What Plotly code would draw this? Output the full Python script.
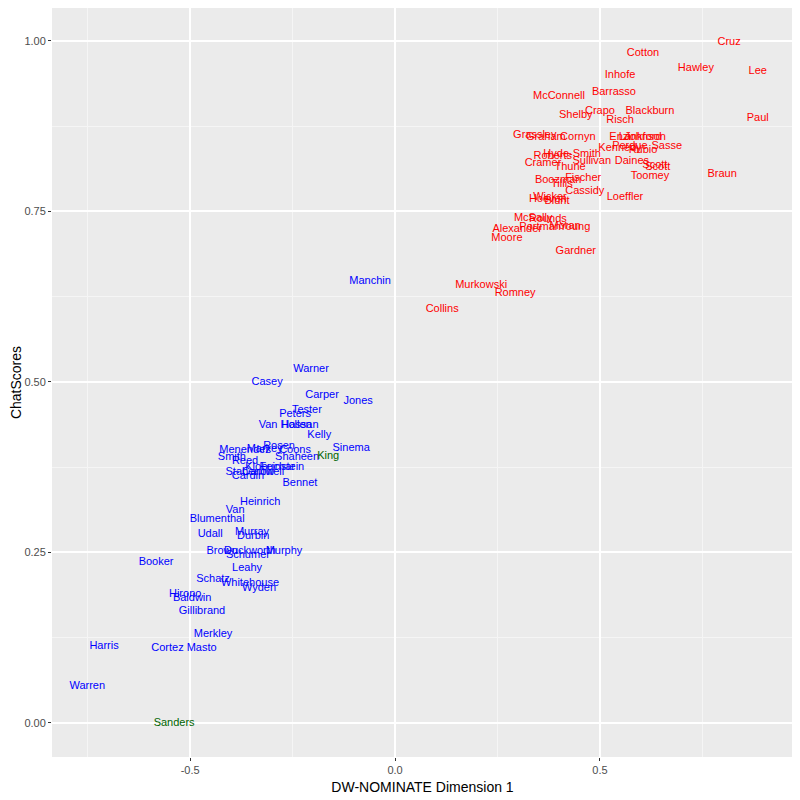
import plotly.graph_objects as go

# Republican senators: name, DW-NOMINATE dim 1, chat score
rep_names = ["Cruz", "Cotton", "Hawley", "Lee", "Inhofe", "McConnell", "Barrasso",
             "Shelby", "Crapo", "Blackburn", "Risch", "Paul", "Grassley", "Graham",
             "Cornyn", "Enzi", "Lankford", "Johnson", "Perdue", "Kennedy", "Rubio",
             "Sasse", "Hyde-Smith", "Roberts", "Cramer", "Sullivan", "Thune", "Daines",
             "Scott", "Scott", "Toomey", "Braun", "Boozman", "Fischer", "Tillis",
             "Cassidy", "Loeffler", "Wicker", "Hoeven", "Blunt", "McSally", "Rounds",
             "Portman", "Moran", "Young", "Alexander", "Moore", "Gardner", "Murkowski",
             "Romney", "Collins"]
rep_x = [0.815, 0.605, 0.734, 0.885, 0.549, 0.400, 0.534,
         0.441, 0.500, 0.622, 0.549, 0.885, 0.341, 0.368,
         0.446, 0.549, 0.598, 0.610, 0.573, 0.549, 0.605,
         0.663, 0.432, 0.385, 0.361, 0.480, 0.427, 0.578,
         0.641, 0.634, 0.622, 0.798, 0.398, 0.459, 0.407,
         0.463, 0.561, 0.378, 0.373, 0.395, 0.337, 0.373,
         0.354, 0.415, 0.439, 0.298, 0.273, 0.441, 0.210,
         0.293, 0.115]
rep_y = [0.998, 0.982, 0.960, 0.956, 0.949, 0.919, 0.924,
         0.891, 0.896, 0.897, 0.883, 0.887, 0.861, 0.858,
         0.859, 0.859, 0.859, 0.859, 0.846, 0.843, 0.839,
         0.846, 0.834, 0.831, 0.821, 0.823, 0.814, 0.823,
         0.814, 0.817, 0.801, 0.804, 0.796, 0.798, 0.789,
         0.780, 0.770, 0.771, 0.767, 0.765, 0.740, 0.739,
         0.726, 0.728, 0.727, 0.723, 0.710, 0.692, 0.642,
         0.630, 0.606]

# Democratic senators
dem_names = ["Manchin", "Warner", "Casey", "Carper", "Jones", "Tester", "Peters",
             "Van Hollen", "Hassan", "Kelly", "Sinema", "Rosen", "Coons", "Menendez",
             "Markey", "Shaheen", "Smith", "Reed", "Klobuchar", "Feinstein", "Stabenow",
             "Cantwell", "Cardin", "Bennet", "Heinrich", "Van", "Blumenthal", "Udall",
             "Murray", "Durbin", "Brown", "Duckworth", "Schumer", "Murphy", "Booker",
             "Leahy", "Schatz", "Whitehouse", "Wyden", "Hirono", "Baldwin", "Gillibrand",
             "Merkley", "Cortez Masto", "Harris", "Warren"]
dem_x = [-0.061, -0.205, -0.312, -0.178, -0.090, -0.215, -0.244,
         -0.268, -0.232, -0.185, -0.107, -0.283, -0.244, -0.366,
         -0.318, -0.239, -0.398, -0.366, -0.305, -0.276, -0.354,
         -0.322, -0.359, -0.232, -0.329, -0.390, -0.434, -0.451,
         -0.349, -0.346, -0.422, -0.354, -0.359, -0.271, -0.583,
         -0.361, -0.444, -0.354, -0.332, -0.512, -0.495, -0.471,
         -0.444, -0.515, -0.710, -0.751]
dem_y = [0.648, 0.518, 0.499, 0.481, 0.472, 0.459, 0.453,
         0.437, 0.437, 0.421, 0.402, 0.406, 0.399, 0.399,
         0.401, 0.389, 0.389, 0.383, 0.375, 0.375, 0.367,
         0.367, 0.362, 0.352, 0.324, 0.312, 0.298, 0.277,
         0.279, 0.274, 0.251, 0.251, 0.246, 0.251, 0.236,
         0.227, 0.210, 0.205, 0.198, 0.189, 0.183, 0.163,
         0.130, 0.110, 0.113, 0.054]

# Independents
ind_names = ["King", "Sanders"]
ind_x = [-0.163, -0.539]
ind_y = [0.391, 0.000]

x_ticks = [-0.5, 0.0, 0.5]
x_ticktext = ["-0.5", "0.0", "0.5"]
y_ticks = [0.0, 0.25, 0.5, 0.75, 1.0]
y_ticktext = ["0.00", "0.25", "0.50", "0.75", "1.00"]

fig = go.Figure()

for names, xs, ys, col in [(rep_names, rep_x, rep_y, '#FF0000'),
                           (dem_names, dem_x, dem_y, '#0000FF'),
                           (ind_names, ind_x, ind_y, '#006400')]:
    fig.add_trace(go.Scatter(
        x=xs, y=ys, text=names,
        mode='text',
        textposition='middle center',
        textfont=dict(family='Liberation Sans, Arial', size=11, color=col),
        showlegend=False,
        hoverinfo='text'))

# page body adds 8px, so margins are trimmed to keep the panel in place
fig.update_layout(
    width=800, height=800,
    margin=dict(l=44, r=15, t=0, b=51),
    paper_bgcolor='#ffffff',
    plot_bgcolor='#EBEBEB',
    font=dict(family='Liberation Sans, Arial', color='#000000'),
    showlegend=False)

fig.update_xaxes(
    range=[-0.837, 0.971],
    tickvals=x_ticks, ticktext=x_ticktext,
    ticks='outside', ticklen=3, tickwidth=1, tickcolor='#333333',
    tickfont=dict(size=11, color='#4D4D4D'),
    showgrid=True, gridcolor='#FFFFFF', gridwidth=1.5,
    minor=dict(dtick=0.25, tick0=-0.75, showgrid=True, gridcolor='#F5F5F5', gridwidth=0.6),
    zeroline=False, showline=False,
    title=dict(text='DW-NOMINATE Dimension 1', font=dict(size=14, color='#000000'), standoff=6))

fig.update_yaxes(
    range=[-0.05, 1.048],
    tickvals=y_ticks, ticktext=y_ticktext,
    ticks='outside', ticklen=3, tickwidth=1, tickcolor='#333333',
    tickfont=dict(size=11, color='#4D4D4D'),
    showgrid=True, gridcolor='#FFFFFF', gridwidth=1.5,
    minor=dict(dtick=0.125, tick0=0.125, showgrid=True, gridcolor='#F5F5F5', gridwidth=0.6),
    zeroline=False, showline=False,
    title=dict(text='ChatScores', font=dict(size=14, color='#000000'), standoff=4))

fig.write_html("out.html")
